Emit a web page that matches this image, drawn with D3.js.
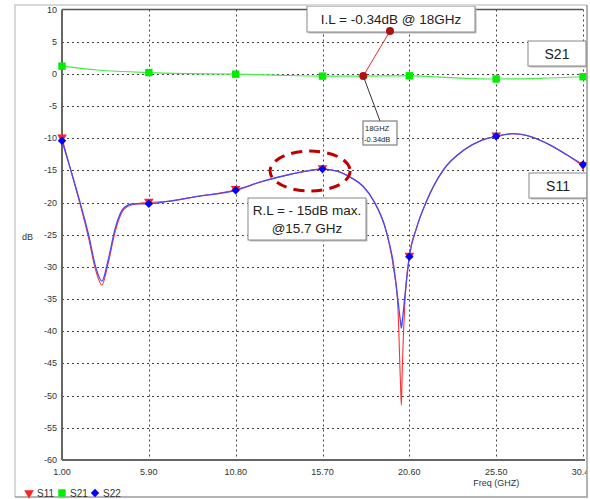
<!DOCTYPE html>
<html>
<head>
<meta charset="utf-8">
<script src="https://cdn.jsdelivr.net/npm/d3@7/dist/d3.min.js"></script>
<style>
	body { margin: 0; background: #fff; }
	svg { display: block; font-family: "Liberation Sans", Arial, sans-serif; }
</style>
</head>
<body>
<svg id="chart" width="590" height="499"></svg>
<script>
// S-parameter sweep, values (GHz / dB)
var freq = [1.0, 1.5, 2.0, 2.5, 2.9, 3.25, 3.6, 4.0, 4.5, 5.0, 5.9, 7.0, 8.5, 10.8, 12.2, 13.9,
	15.7, 16.5, 17.3, 18.0, 18.6, 19.3, 19.7, 19.95, 20.1, 20.15, 20.2, 20.35, 20.6, 21.0,
	21.6, 22.5, 23.7, 24.7, 25.5, 26.4, 27.5, 28.5, 29.5, 30.4];
var s11 = [-10, -15, -20, -25.5, -30.5, -32.8, -29.5, -24.5, -21, -20.3, -20, -19.8, -19.1, -18, -16.8, -15.6,
	-14.8, -15.1, -16.1, -17.5, -19.8, -24.5, -30, -36, -48, -51.5, -46, -35.5, -28.4, -24,
	-19.6, -15, -11.8, -10.3, -9.7, -9.3, -9.8, -11, -12.6, -14.3];
var s22 = [-10.4, -15, -19.8, -25, -30, -32.2, -29, -24, -20.8, -20.2, -20.2, -19.8, -19.1, -18.1, -16.8, -15.6,
	-14.8, -15.1, -16.1, -17.5, -19.8, -24.5, -29.5, -35, -38.5, -39.5, -38.5, -34.5, -28.4, -24,
	-19.6, -15, -11.8, -10.3, -9.7, -9.3, -9.8, -11, -12.6, -14.1];
var s21Freq = [1.0, 3.0, 5.9, 8.0, 10.8, 13.0, 15.7, 18.0, 20.6, 23.0, 25.5, 28.0, 30.4];
var s21 = [1.2, 0.6, 0.2, 0.05, -0.05, -0.2, -0.35, -0.34, -0.3, -0.6, -0.8, -0.7, -0.45];

var xTicks = [1.0, 5.9, 10.8, 15.7, 20.6, 25.5, 30.4];
var yTicks = [10, 5, 0, -5, -10, -15, -20, -25, -30, -35, -40, -45, -50, -55, -60];
var legendNames = ["S11", "S21", "S22"];

var ilPoint = [18, -0.34];
var rlPoint = [15.0, -15.1];

var svg = d3.select("#chart");
var margin = { left: 62, top: 9.5, right: 583, bottom: 460 };

var x = d3.scaleLinear().domain([1, 30.4]).range([margin.left, margin.right]);
var y = d3.scaleLinear().domain([-60, 10]).range([margin.bottom, margin.top]);

svg.append("clipPath").attr("id", "frameClip")
	.append("rect").attr("x", 15).attr("y", 5).attr("width", 572).attr("height", 492);

var root = svg.append("g").attr("clip-path", "url(#frameClip)");

// outer panel frame
svg.append("path").attr("d", "M15,497 V5 H587").attr("fill", "none").attr("stroke", "#d8d8d8").attr("stroke-width", 2);
svg.append("path").attr("d", "M587,5 V497 H15").attr("fill", "none").attr("stroke", "#9a9a9a").attr("stroke-width", 1.5);

// grid
var grid = root.append("g").attr("stroke", "#444").attr("stroke-width", 1).attr("stroke-dasharray", "2,3");
grid.selectAll("line.h").data(yTicks.filter(function(d) { return d > -60 && d < 10; }))
	.enter().append("line")
	.attr("x1", margin.left).attr("x2", margin.right)
	.attr("y1", function(d) { return Math.round(y(d)) + 0.5; })
	.attr("y2", function(d) { return Math.round(y(d)) + 0.5; });
grid.selectAll("line.v").data(xTicks.slice(1))
	.enter().append("line")
	.attr("y1", margin.top).attr("y2", margin.bottom)
	.attr("x1", function(d) { return Math.round(x(d)) + 0.5; })
	.attr("x2", function(d) { return Math.round(x(d)) + 0.5; });

// axes frame
root.append("line").attr("x1", margin.left).attr("x2", margin.right)
	.attr("y1", margin.top).attr("y2", margin.top).attr("stroke", "#555").attr("stroke-width", 1.5);
root.append("line").attr("x1", margin.left).attr("x2", margin.left)
	.attr("y1", margin.top).attr("y2", margin.bottom).attr("stroke", "#666").attr("stroke-width", 2);
root.append("line").attr("x1", margin.left).attr("x2", margin.right + 2)
	.attr("y1", margin.bottom).attr("y2", margin.bottom).attr("stroke", "#666").attr("stroke-width", 2);

// tick labels
root.append("g").selectAll("text").data(yTicks).enter().append("text")
	.attr("x", margin.left - 5).attr("y", function(d) { return y(d) + 3; })
	.attr("text-anchor", "end").attr("font-size", 9).attr("fill", "#333")
	.text(function(d) { return d; });
root.append("g").selectAll("text").data(xTicks).enter().append("text")
	.attr("x", function(d) { return x(d); }).attr("y", 475)
	.attr("text-anchor", "middle").attr("font-size", 9).attr("fill", "#333")
	.text(function(d) { return d.toFixed(2); });
root.append("text").attr("x", 22).attr("y", 240).attr("font-size", 9).attr("fill", "#333").text("dB");
root.append("text").attr("x", x(25.5)).attr("y", 486).attr("text-anchor", "middle")
	.attr("font-size", 9).attr("fill", "#333").text("Freq (GHZ)");

// curves
var line = d3.line().x(function(d) { return x(d[0]); }).y(function(d) { return y(d[1]); })
	.curve(d3.curveMonotoneX);
var s11Data = d3.zip(freq, s11), s22Data = d3.zip(freq, s22), s21Data = d3.zip(s21Freq, s21);

var plot = root.append("g");
plot.append("path").datum(s21Data).attr("d", line).attr("fill", "none").attr("stroke", "#44ee44").attr("stroke-width", 1.2);
plot.append("path").datum(s11Data).attr("d", line).attr("fill", "none").attr("stroke", "#ff3030").attr("stroke-width", 1.1);
plot.append("path").datum(s22Data).attr("d", line).attr("fill", "none").attr("stroke", "#4848ff").attr("stroke-width", 1.3);

function atTicks(data) {
	return data.filter(function(d) { return xTicks.some(function(t) { return Math.abs(t - d[0]) < 1e-6; }); });
}

var triDown = d3.symbol().type(d3.symbolTriangle).size(40);
var square = d3.symbol().type(d3.symbolSquare).size(55);
var diamond = d3.symbol().type(d3.symbolSquare).size(36);

plot.selectAll("path.s21m").data(atTicks(s21Data)).enter().append("path")
	.attr("d", square).attr("fill", "#00ee00")
	.attr("transform", function(d) { return "translate(" + x(d[0]) + "," + y(d[1]) + ")"; });
plot.selectAll("path.s11m").data(atTicks(s11Data)).enter().append("path")
	.attr("d", triDown).attr("fill", "#ff2020")
	.attr("transform", function(d) { return "translate(" + x(d[0]) + "," + (y(d[1]) - 1) + ") rotate(180)"; });
plot.selectAll("path.s22m").data(atTicks(s22Data)).enter().append("path")
	.attr("d", diamond).attr("fill", "#0000ff")
	.attr("transform", function(d) { return "translate(" + x(d[0]) + "," + y(d[1]) + ") rotate(45)"; });

// annotations
function box(g, x0, y0, w, h) {
	g.append("rect").attr("x", x0 + 1.5).attr("y", y0 + 1.5).attr("width", w).attr("height", h).attr("fill", "#bbb");
	g.append("rect").attr("x", x0).attr("y", y0).attr("width", w).attr("height", h)
		.attr("fill", "#fff").attr("stroke", "#888").attr("stroke-width", 1);
}

var ann = root.append("g");
var ilX = x(ilPoint[0]), ilY = y(ilPoint[1]);
ann.append("line").attr("x1", ilX).attr("y1", ilY).attr("x2", 380).attr("y2", 121).attr("stroke", "#333").attr("stroke-width", 1);
ann.append("line").attr("x1", ilX).attr("y1", ilY).attr("x2", 390).attr("y2", 31).attr("stroke", "#e03030").attr("stroke-width", 1);
box(ann, 307, 6, 168, 26);
ann.append("text").attr("x", 391).attr("y", 24).attr("text-anchor", "middle").attr("font-size", 13.5).attr("fill", "#222")
	.text("I.L = -0.34dB @ 18GHz");
ann.append("circle").attr("cx", 390).attr("cy", 31).attr("r", 4).attr("fill", "#b01010");
ann.append("circle").attr("cx", ilX).attr("cy", ilY).attr("r", 4).attr("fill", "#b01010");

ann.append("rect").attr("x", 363).attr("y", 121).attr("width", 34).attr("height", 24)
	.attr("fill", "#fff").attr("stroke", "#666").attr("stroke-width", 1);
ann.append("text").attr("x", 365).attr("y", 131).attr("font-size", 7.5).attr("fill", "#222").text("18GHZ");
ann.append("text").attr("x", 364).attr("y", 142).attr("font-size", 7.5).attr("fill", "#222").text("-0.34dB");

box(ann, 528, 41, 58, 25);
ann.append("text").attr("x", 557).attr("y", 59).attr("text-anchor", "middle").attr("font-size", 14).attr("fill", "#222").text("S21");
box(ann, 529, 173, 58, 25);
ann.append("text").attr("x", 558).attr("y", 191).attr("text-anchor", "middle").attr("font-size", 14).attr("fill", "#222").text("S11");

box(ann, 248, 198, 118, 42);
ann.append("text").attr("x", 307).attr("y", 215).attr("text-anchor", "middle").attr("font-size", 13.5).attr("fill", "#222")
	.text("R.L = - 15dB max.");
ann.append("text").attr("x", 307).attr("y", 233).attr("text-anchor", "middle").attr("font-size", 13.5).attr("fill", "#222")
	.text("@15.7 GHz");

ann.append("ellipse").attr("cx", x(rlPoint[0])).attr("cy", y(rlPoint[1])).attr("rx", 40).attr("ry", 20)
	.attr("fill", "none").attr("stroke", "#c00000").attr("stroke-width", 3).attr("stroke-dasharray", "11,7");

// legend
var legend = svg.append("g").attr("transform", "translate(29,493)");
var legendSym = [triDown, square, diamond];
var legendCol = ["#ff2020", "#00ee00", "#0000ff"];
var legendRot = ["rotate(180)", null, "rotate(45)"];
legendNames.forEach(function(name, i) {
	var g = legend.append("g").attr("transform", "translate(" + (i * 33) + ",0)");
	g.append("path").attr("d", legendSym[i]).attr("fill", legendCol[i]).attr("transform", legendRot[i]);
	g.append("text").attr("x", 8).attr("y", 4).attr("font-size", 10).attr("fill", "#333").text(name);
});
</script>
</body>
</html>
